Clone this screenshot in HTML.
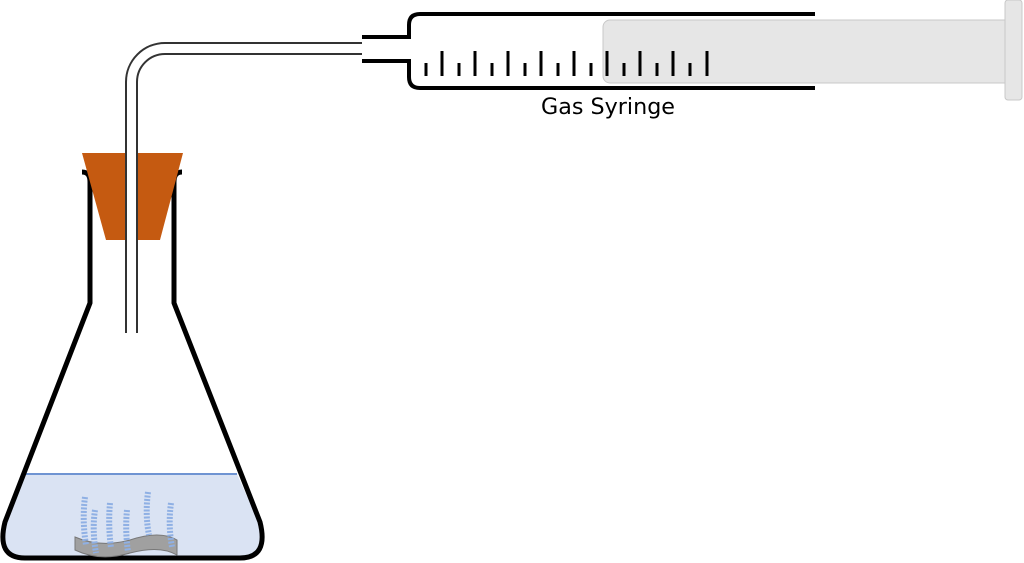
<!DOCTYPE html>
<html><head><meta charset="utf-8"><style>
html,body{margin:0;padding:0;background:#fff;}
svg{display:block;}
</style></head><body>
<svg width="1024" height="563" viewBox="0 0 1024 563" xmlns="http://www.w3.org/2000/svg">
<!-- water -->
<path d="M25,474 L237,474 L262,530 Q268,558 245,558 L20,558 Q-4,558 3,530 Z" fill="#dae3f3"/>
<line x1="25" y1="474" x2="237" y2="474" stroke="#6f94d2" stroke-width="2"/>
<!-- flask -->
<path d="M82,172 Q90,172 90,182 L90,303 L5,522 Q-4,558 25,558 L240,558 Q269,558 260,522 L174,303 L174,182 Q174,172 182,172" fill="none" stroke="#000" stroke-width="5" stroke-linejoin="round"/>
<!-- stopper -->
<polygon points="82,153 183,153 160,240 106,240" fill="#c55a11"/>
<!-- tube -->
<rect x="126" y="60" width="11" height="273" fill="#fff"/>
<path d="M126,333 L126,82 A39,39 0 0 1 165,43 L362,43" fill="none" stroke="#333" stroke-width="2"/>
<path d="M137,333 L137,82 A28,28 0 0 1 165,54 L362,54" fill="none" stroke="#333" stroke-width="2"/>
<rect x="124" y="333" width="15" height="7" fill="#fff"/>
<!-- metal strip -->
<path d="M75,537 Q100,548 130,540 Q160,530 177,540 L177,555 Q160,545 130,553 Q100,562 75,550 Z" fill="#a0a0a0" stroke="#777" stroke-width="1"/>
<!-- bubbles -->
<g stroke="#8fb0e4" stroke-width="6" stroke-dasharray="2 1.5" fill="none">
<path d="M85,497 Q82,520 86,545"/>
<path d="M95,510 Q92,530 96,553"/>
<path d="M110,503 Q108,525 111,548"/>
<path d="M127,510 Q125,530 128,552"/>
<path d="M148,492 Q145,515 149,535"/>
<path d="M171,503 Q168,525 172,547"/>
</g>
<!-- syringe plunger -->
<rect x="603" y="20" width="410" height="63" rx="7" fill="#e6e6e6" stroke="#c8c8c8" stroke-width="1"/>
<rect x="1005" y="0" width="17" height="100" rx="3" fill="#e6e6e6" stroke="#c8c8c8" stroke-width="1"/>
<!-- barrel -->
<path d="M815,14 L420,14 Q409,14 409,25 L409,37 L362,37" fill="none" stroke="#000" stroke-width="4"/>
<path d="M815,88 L420,88 Q409,88 409,77 L409,61 L362,61" fill="none" stroke="#000" stroke-width="4"/>
<!-- ticks -->
<g stroke="#000" stroke-width="3">
<line x1="426" y1="63" x2="426" y2="76"/>
<line x1="442" y1="51" x2="442" y2="76"/>
<line x1="459" y1="63" x2="459" y2="76"/>
<line x1="475" y1="51" x2="475" y2="76"/>
<line x1="492" y1="63" x2="492" y2="76"/>
<line x1="508" y1="51" x2="508" y2="76"/>
<line x1="525" y1="63" x2="525" y2="76"/>
<line x1="541" y1="51" x2="541" y2="76"/>
<line x1="558" y1="63" x2="558" y2="76"/>
<line x1="574" y1="51" x2="574" y2="76"/>
<line x1="591" y1="63" x2="591" y2="76"/>
<line x1="607" y1="51" x2="607" y2="76"/>
<line x1="624" y1="63" x2="624" y2="76"/>
<line x1="640" y1="51" x2="640" y2="76"/>
<line x1="657" y1="63" x2="657" y2="76"/>
<line x1="673" y1="51" x2="673" y2="76"/>
<line x1="690" y1="63" x2="690" y2="76"/>
<line x1="707" y1="51" x2="707" y2="76"/>
</g>
<text x="608" y="114" text-anchor="middle" font-family="DejaVu Sans, Liberation Sans, sans-serif" font-size="22" textLength="134" lengthAdjust="spacingAndGlyphs" fill="#000">Gas Syringe</text>
</svg>
</body></html>
